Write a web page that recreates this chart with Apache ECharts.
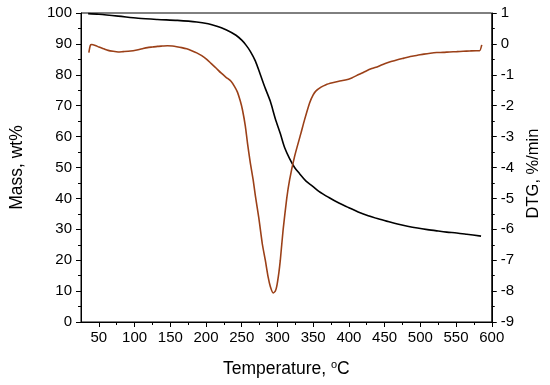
<!DOCTYPE html>
<html>
<head>
<meta charset="utf-8">
<script src="https://cdn.jsdelivr.net/npm/echarts@6/dist/echarts.min.js"></script>
<style>
html,body{margin:0;padding:0;background:#fff;}
#chart{width:550px;height:385px;}
</style>
</head>
<body>
<div id="chart"></div>
<script>
// Mass (TG) curve, left axis
var massTemp = [35, 50, 77, 105, 132, 160, 187, 203, 214, 228, 242, 250, 256, 262, 269, 276, 283, 290, 297, 304, 310, 317, 324, 331, 340, 349, 358, 372, 386, 400, 413, 427, 441, 455, 468, 482, 496, 510, 523, 537, 551, 565, 585];
var massVal  = [99.8, 99.6, 99.0, 98.3, 97.9, 97.6, 97.1, 96.5, 95.8, 94.6, 92.8, 91.2, 89.6, 87.6, 84.5, 80.1, 75.6, 71.4, 65.8, 61.0, 56.5, 52.9, 50.0, 48.0, 45.6, 44.0, 42.3, 40.3, 38.5, 37.0, 35.6, 34.4, 33.4, 32.5, 31.7, 31.0, 30.4, 29.9, 29.5, 29.1, 28.8, 28.4, 27.8];

// DTG curve, right axis
var dtgTemp = [36, 38, 40, 45, 50, 57, 63, 70, 77, 84, 91, 98, 105, 112, 118, 125, 132, 139, 146, 153, 159, 166, 173, 180, 187, 194, 201, 207, 214, 221, 228, 235, 240, 244, 248, 251, 255, 258, 262, 266, 269, 274, 279, 283, 287, 290, 294, 297, 299, 302, 304, 308, 313, 317, 324, 333, 338, 345, 350, 354, 361, 368, 377, 386, 395, 404, 413, 423, 432, 441, 450, 459, 468, 477, 486, 496, 505, 514, 523, 532, 541, 551, 560, 569, 578, 583, 586];
var dtgVal  = [-0.28, -0.05, -0.02, -0.05, -0.10, -0.16, -0.21, -0.24, -0.26, -0.25, -0.24, -0.22, -0.19, -0.15, -0.12, -0.10, -0.08, -0.07, -0.06, -0.07, -0.09, -0.12, -0.16, -0.22, -0.29, -0.38, -0.50, -0.63, -0.78, -0.94, -1.08, -1.21, -1.38, -1.56, -1.85, -2.13, -2.65, -3.2, -3.85, -4.4, -4.9, -5.65, -6.5, -7.0, -7.55, -7.85, -8.06, -8.0, -7.85, -7.4, -7.0, -6.0, -5.0, -4.4, -3.64, -2.88, -2.45, -1.91, -1.65, -1.52, -1.40, -1.32, -1.26, -1.21, -1.17, -1.10, -1.00, -0.89, -0.80, -0.73, -0.64, -0.57, -0.51, -0.46, -0.41, -0.37, -0.33, -0.30, -0.28, -0.275, -0.26, -0.25, -0.24, -0.23, -0.22, -0.22, -0.03];

// Tick labels
var xMajorTicks = [50, 100, 150, 200, 250, 300, 350, 400, 450, 500, 550, 600];
var xMinorTicks = [75, 125, 175, 225, 275, 325, 375, 425, 475, 525, 575];

function pairs(xs, ys) { return xs.map(function (x, i) { return [x, ys[i]]; }); }

var chart = echarts.init(document.getElementById('chart'), null, {renderer: 'canvas'});
var font = 'Liberation Sans, Arial, sans-serif';
var axisLine = {show: true, onZero: false, lineStyle: {color: '#000', width: 1}};
chart.setOption({
  animation: false,
  backgroundColor: '#fff',
  grid: {left: 77, right: 54, top: 13, bottom: 63, show: true, borderColor: '#000', borderWidth: 1},
  xAxis: [{
    type: 'value', min: 25, max: 600,
    axisLine: axisLine,
    splitLine: {show: false},
    axisTick: {show: true, inside: false, length: 5, customValues: xMajorTicks, lineStyle: {color: '#000'}},
    axisLabel: {color: '#000', fontFamily: font, fontSize: 15, margin: 8, customValues: xMajorTicks},
    name: 'Temperature, {sup|o}C', nameLocation: 'middle', nameGap: 37,
    nameTextStyle: {color: '#000', fontFamily: font, fontSize: 17.5,
      rich: {sup: {fontSize: 11, verticalAlign: 'top', padding: [0, 0, 9, 0], fontFamily: font, color: '#000'}}}
  }, {
    type: 'value', min: 25, max: 600, position: 'bottom',
    axisLine: {show: false, onZero: false}, splitLine: {show: false},
    axisTick: {show: true, inside: false, length: 3, customValues: xMinorTicks, lineStyle: {color: '#000'}},
    axisLabel: {show: false}
  }],
  yAxis: [{
    type: 'value', min: 0, max: 100, interval: 10, position: 'left',
    axisLine: axisLine, splitLine: {show: false},
    axisTick: {show: true, inside: false, length: 5, lineStyle: {color: '#000'}},
    minorTick: {show: true, splitNumber: 2, length: 3, lineStyle: {color: '#000'}},
    axisLabel: {color: '#000', fontFamily: font, fontSize: 15, margin: 9},
    name: 'Mass, wt%', nameLocation: 'middle', nameGap: 55,
    nameTextStyle: {color: '#000', fontFamily: font, fontSize: 17.5}
  }, {
    type: 'value', min: -9, max: 1, interval: 1, position: 'right',
    axisLine: axisLine, splitLine: {show: false},
    axisTick: {show: true, inside: false, length: 5, lineStyle: {color: '#000'}},
    minorTick: {show: true, splitNumber: 2, length: 3, lineStyle: {color: '#000'}},
    axisLabel: {color: '#000', fontFamily: font, fontSize: 15, margin: 9},
    name: 'DTG, %/min', nameLocation: 'middle', nameGap: 28,
    nameTextStyle: {color: '#000', fontFamily: font, fontSize: 16.5, padding: [0, 12, 0, 0]}
  }],
  series: [{
    type: 'line', xAxisIndex: 0, yAxisIndex: 0,
    data: pairs(massTemp, massVal), showSymbol: false, smooth: 0.3,
    lineStyle: {color: '#000', width: 1.6}
  }, {
    type: 'line', xAxisIndex: 0, yAxisIndex: 1,
    data: pairs(dtgTemp, dtgVal), showSymbol: false, smooth: 0.2,
    lineStyle: {color: '#9b4018', width: 1.6}
  }]
});
</script>
</body>
</html>
